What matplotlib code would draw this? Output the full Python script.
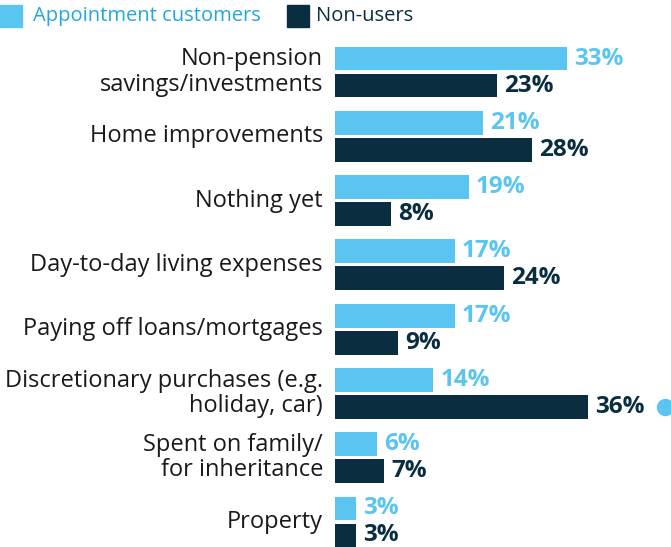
import matplotlib
matplotlib.use('Agg')
import matplotlib.pyplot as plt
from matplotlib.patches import Rectangle

# Data
categories = [
    'Non-pension\nsavings/investments',
    'Home improvements',
    'Nothing yet',
    'Day-to-day living expenses',
    'Paying off loans/mortgages',
    'Discretionary purchases (e.g.\nholiday, car)',
    'Spent on family/\nfor inheritance',
    'Property',
]
appointment = [33, 21, 19, 17, 17, 14, 6, 3]
non_users = [23, 28, 8, 24, 9, 36, 7, 3]

LIGHT = '#5BC5F2'
DARK = '#0A2E40'
LEGEND_BLUE = '#22A6E0'

plt.rcParams['font.family'] = ['Open Sans', 'DejaVu Sans']

fig = plt.figure(figsize=(6.71, 5.47), dpi=100)
ax = fig.add_axes([335 / 671, 0, 336 / 671, 500 / 547])

offset = 0.21
height = 0.37
ys = list(range(len(categories)))

ax.barh([y - offset for y in ys], appointment, height=height, color=LIGHT)
ax.barh([y + offset for y in ys], non_users, height=height, color=DARK)

for y, a, n in zip(ys, appointment, non_users):
    ax.text(a + 1.0, y - offset, f'{a}%', va='center', ha='left',
            fontsize=17.5, fontweight='bold', color=LIGHT)
    ax.text(n + 1.0, y + offset, f'{n}%', va='center', ha='left',
            fontsize=17.5, fontweight='bold', color=DARK)

# category labels
for y, cat in zip(ys, categories):
    ax.text(-1.7, y, cat, ha='right', va='center', fontsize=17,
            color='#1a1a1a', linespacing=1.07, clip_on=False)

# highlight dot next to the largest value
ax.plot([46.9], [5 + offset], 'o', color=LIGHT, markersize=11.5, clip_on=False)

ax.set_xlim(0, 336 / 7.03)
ax.set_ylim(7.39, -0.39)
ax.axis('off')

# legend
fig.patches.append(Rectangle((0 / 671, 1 - 27 / 547), 22 / 671, 22 / 547,
                             transform=fig.transFigure, color=LIGHT))
fig.text(33 / 671, 1 - 16 / 547, 'Appointment customers', fontsize=14.5,
         color=LEGEND_BLUE, va='center', ha='left')
fig.patches.append(Rectangle((287 / 671, 1 - 27 / 547), 22 / 671, 22 / 547,
                             transform=fig.transFigure, color=DARK))
fig.text(316 / 671, 1 - 16 / 547, 'Non-users', fontsize=14.5,
         color=DARK, va='center', ha='left')

fig.savefig('out.png', dpi=100)
